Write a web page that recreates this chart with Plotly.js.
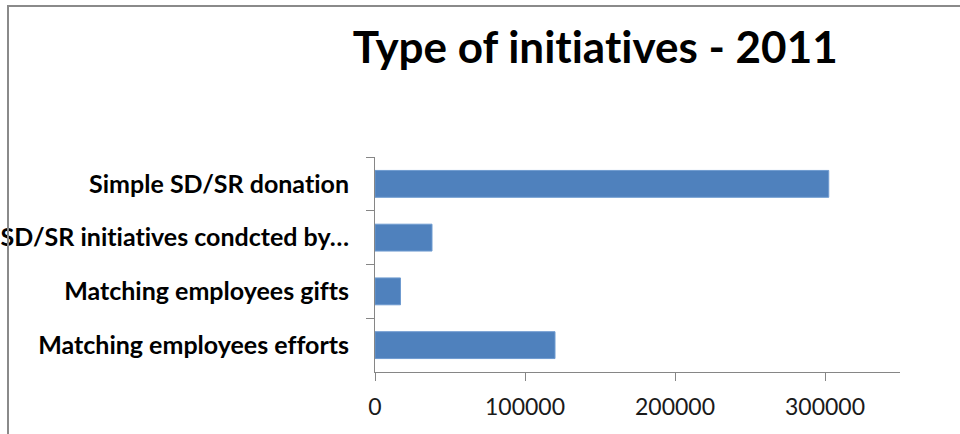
<!DOCTYPE html>
<html>
<head>
<meta charset="utf-8">
<script src="https://cdn.plot.ly/plotly-3.0.1.min.js"></script>
<style>
  html, body { margin: 0; padding: 0; overflow: hidden; background: #fff; }
  #chart { width: 960px; height: 434px; position: absolute; left: 0; top: 0; }
  #chart text { font-variant-ligatures: none !important; font-feature-settings: "liga" 0, "dlig" 0 !important; }
  #frame { position: absolute; left: 7px; top: 5px; width: 1000px; height: 1000px;
           border: 2px solid #8a8a8a; pointer-events: none; }
</style>
</head>
<body>
<div id="chart"></div>
<div id="frame"></div>
<script>
const chartTitle = "Type of initiatives - 2011";
const categories = [
  "Simple SD/SR donation",
  "SD/SR initiatives condcted by…",
  "Matching employees gifts",
  "Matching employees efforts"
];
const values = [302500, 38000, 17000, 120000];
const xTickValues = [0, 100000, 200000, 300000];
const xTickLabels = ["0", "100000", "200000", "300000"];

const trace = {
  type: "bar",
  orientation: "h",
  x: values,
  y: categories,
  width: 0.5,
  marker: { color: "#4f81bd", line: { color: "#6f9bd0", width: 1 } },
  hoverinfo: "x+y"
};

const layout = {
  width: 960,
  height: 434,
  margin: { l: 375, r: 60, t: 157, b: 62 },
  paper_bgcolor: "#ffffff",
  plot_bgcolor: "#ffffff",
  showlegend: false,
  font: { family: "Lato, 'Open Sans', sans-serif", color: "#000" },
  title: {
    text: chartTitle,
    font: { family: "Lato, sans-serif", size: 44, color: "#000", weight: "bold" },
    x: 0.62, xanchor: "center", xref: "container",
    y: 0.89, yanchor: "middle", yref: "container"
  },
  xaxis: {
    range: [0, 350000],
    tickmode: "array",
    tickvals: xTickValues,
    ticktext: xTickLabels,
    ticks: "outside",
    ticklen: 8,
    tickcolor: "#868686",
    showline: true,
    linecolor: "#868686",
    linewidth: 1,
    showgrid: false,
    zeroline: false,
    ticklabelstandoff: 6,
    tickfont: { size: 23, color: "#1a1a1a", family: "Lato, sans-serif" },
    fixedrange: true
  },
  yaxis: {
    type: "category",
    autorange: "reversed",
    tickson: "boundaries",
    ticks: "outside",
    ticklen: 8,
    tickcolor: "#868686",
    showline: true,
    linecolor: "#868686",
    linewidth: 1,
    showgrid: false,
    zeroline: false,
    ticklabelstandoff: 20,
    tickfont: { size: 25, color: "#000", family: "Lato, sans-serif", weight: "bold" },
    fixedrange: true
  }
};

Plotly.newPlot("chart", [trace], layout, { displayModeBar: false, staticPlot: true });
</script>
</body>
</html>
